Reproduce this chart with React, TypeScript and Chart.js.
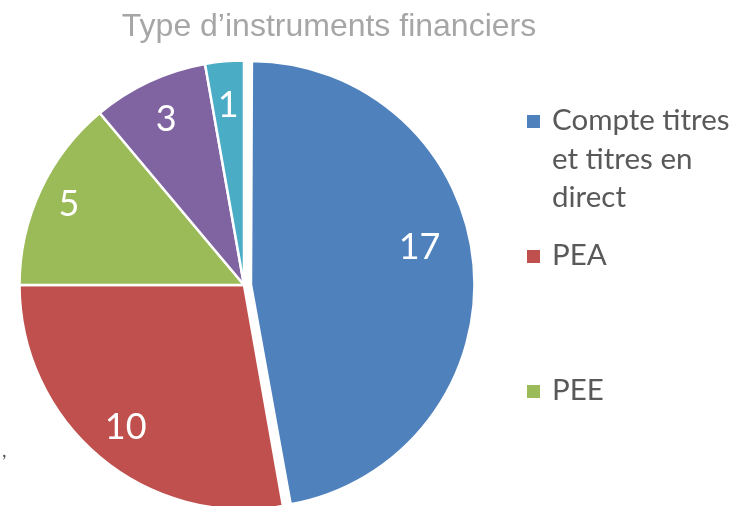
import React, { useEffect, useRef } from "react";
import { Chart, registerables } from "chart.js";

Chart.register(...registerables);

const titleText = "Type d’instruments financiers";
const categories = ["Compte titres et titres en direct", "PEA", "PEE", "PERCO", "Autres"];
const values = [17, 10, 5, 3, 1];
const colors = ["#4F81BD", "#C0504D", "#9BBB59", "#8064A2", "#4BACC6"];

// style (label placement within each slice, explosion)
const labelAngleFrac = [0.454, 0.5, 0.5, 0.5, 0.5];
const labelRadiusFrac = [0.77, 0.82, 0.86, 0.82, 0.81];
const explodeOffset = [28, 0, 0, 0, 0];
const PIE_RADIUS = 224.5;

function wrap(ctx: CanvasRenderingContext2D, text: string, maxW: number): string[] {
  const words = text.split(" ");
  const lines: string[] = [];
  let cur = "";
  for (const w of words) {
    const t = cur ? cur + " " + w : w;
    if (ctx.measureText(t).width > maxW && cur) {
      lines.push(cur);
      cur = w;
    } else cur = t;
  }
  if (cur) lines.push(cur);
  return lines;
}

const overlayPlugin = {
  id: "overlay",
  afterDatasetUpdate(chart: any) {
    const meta = chart.getDatasetMeta(0);
    meta.data.forEach((arc: any, i: number) => {
      const o = explodeOffset[i] / 4;
      if (o) {
        const circ = arc.endAngle - arc.startAngle;
        const fix = 1 - Math.sin(Math.min(Math.PI, circ));
        arc.outerRadius = PIE_RADIUS - 1 - o * fix;
      }
    });
  },
  afterDatasetsDraw(chart: any) {
    const ctx: CanvasRenderingContext2D = chart.ctx;
    const meta = chart.getDatasetMeta(0);
    ctx.save();
    // data labels
    ctx.fillStyle = "#ffffff";
    ctx.font = "36px Lato";
    ctx.textAlign = "center";
    ctx.textBaseline = "alphabetic";
    meta.data.forEach((arc: any, i: number) => {
      const { x, y, startAngle, endAngle } = arc;
      const mid = (startAngle + endAngle) / 2;
      const circ = endAngle - startAngle;
      const shift = explodeOffset[i] / 4;
      const a = startAngle + circ * labelAngleFrac[i];
      const r = PIE_RADIUS * labelRadiusFrac[i];
      const cx = x + Math.cos(mid) * shift + Math.cos(a) * r;
      const cy = y + Math.sin(mid) * shift + Math.sin(a) * r;
      ctx.fillText(String(values[i]), cx, cy + 13);
    });

    // title
    ctx.fillStyle = "#A6A6A6";
    ctx.font = "32px 'Liberation Sans'";
    ctx.textAlign = "center";
    ctx.fillText(titleText, 329, 36);

    // legend
    ctx.textAlign = "left";
    ctx.font = "29.5px Lato";
    const step = 135;
    categories.forEach((c, i) => {
      const my = 121.5 + i * step;
      ctx.fillStyle = colors[i];
      ctx.fillRect(527, my - 6.5, 13, 13);
      ctx.fillStyle = "#595959";
      const lines = wrap(ctx, c, 182);
      lines.forEach((ln, k) => {
        ctx.fillText(ln, 552, my + 8.5 + k * 38.5);
      });
    });

    // stray mark at left edge
    ctx.fillStyle = "#595959";
    ctx.font = "20px Lato";
    ctx.fillText(",", 2, 457);
    ctx.restore();
  },
};

export default function App() {
  const ref = useRef<HTMLCanvasElement | null>(null);
  useEffect(() => {
    document.body.style.margin = "0";
    const chart = new Chart(ref.current as HTMLCanvasElement, {
      type: "pie",
      data: {
        labels: categories,
        datasets: [
          {
            data: values,
            backgroundColor: colors,
            borderColor: "#ffffff",
            borderWidth: 2.5,
            offset: explodeOffset,
            radius: PIE_RADIUS,
            clip: false,
          } as any,
        ],
      },
      options: {
        responsive: false,
        animation: false,
        layout: { padding: { left: 0, right: 254, top: 64, bottom: 0 } },
        plugins: {
          legend: { display: false },
          title: { display: false },
          tooltip: { enabled: false },
        },
      },
      plugins: [overlayPlugin],
    });
    return () => chart.destroy();
  }, []);
  return (
    <div style={{ width: 742, height: 506, background: "#fff" }}>
      <canvas ref={ref} width={742} height={506} style={{ display: "block" }} />
    </div>
  );
}
